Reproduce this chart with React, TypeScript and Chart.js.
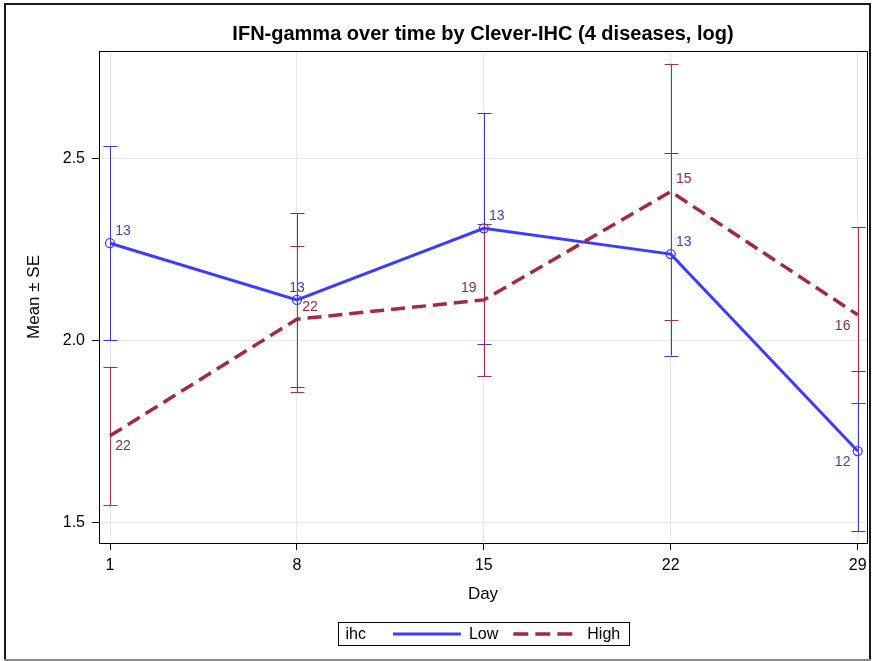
import React, { useEffect, useRef } from "react";
import { Chart, registerables } from "chart.js";

Chart.register(...registerables);

// ---------- data ----------
const days = [1, 8, 15, 22, 29];
const lowMean = [2.268, 2.112, 2.309, 2.238, 1.696];
const lowSE = [0.267, 0.239, 0.318, 0.279, 0.221];
const lowN = [13, 13, 13, 13, 12];
const highMean = [1.738, 2.059, 2.112, 2.41, 2.071];
const highSE = [0.19, 0.2, 0.21, 0.352, 0.242];
const highN = [22, 22, 19, 15, 16];
const yTicks = [1.5, 2.0, 2.5];
const xTicks = days;
const seriesNames = ["Low", "High"];
const legendTitle = "ihc";
const titleText = "IFN-gamma over time by Clever-IHC (4 diseases, log)";

// label placement codes (style)
const lowLabelPos = ["ur", "u", "ur", "ur", "dl"];
const highLabelPos = ["dr", "ur", "ul", "ur", "dl"];

// ---------- style ----------
const FONT = "'Liberation Sans', Arial, Helvetica, sans-serif";
const LOW_LINE = "#3c3cff";
const LOW_BAR = "#3a3ad0";
const LOW_TEXT = "#4040c4";
const HIGH_LINE = "#a3293d";
const HIGH_BAR = "#a0334a";
const HIGH_TEXT = "#93293d";
const DASH = [14, 7];

const placeOffset: Record<string, [number, number]> = {
  ur: [13, -12],
  u: [0, -12],
  dr: [13, 10],
  ul: [-15, -12],
  dl: [-15, 11],
};

const seriesInfo = [
  { mean: lowMean, se: lowSE, n: lowN, pos: lowLabelPos, bar: LOW_BAR, text: LOW_TEXT },
  { mean: highMean, se: highSE, n: highN, pos: highLabelPos, bar: HIGH_BAR, text: HIGH_TEXT },
];

const decorPlugin = {
  id: "decor",
  beforeDatasetsDraw(chart: any) {
    const { ctx, scales } = chart;
    const xs = scales.x;
    const ys = scales.y;
    ctx.save();
    seriesInfo.forEach((s) => {
      ctx.strokeStyle = s.bar;
      ctx.lineWidth = 1;
      days.forEach((d, i) => {
        const x = Math.round(xs.getPixelForValue(d)) + 0.5;
        const yt = ys.getPixelForValue(s.mean[i] + s.se[i]);
        const yb = ys.getPixelForValue(s.mean[i] - s.se[i]);
        ctx.beginPath();
        ctx.moveTo(x, yt);
        ctx.lineTo(x, yb);
        ctx.moveTo(x - 7, Math.round(yt) + 0.5);
        ctx.lineTo(x + 7, Math.round(yt) + 0.5);
        ctx.moveTo(x - 7, Math.round(yb) + 0.5);
        ctx.lineTo(x + 7, Math.round(yb) + 0.5);
        ctx.stroke();
      });
    });
    ctx.restore();
  },
  afterDatasetsDraw(chart: any) {
    const { ctx, scales } = chart;
    const xs = scales.x;
    const ys = scales.y;
    ctx.save();
    ctx.font = `14px ${FONT}`;
    ctx.textAlign = "center";
    ctx.textBaseline = "middle";
    seriesInfo.forEach((s) => {
      ctx.fillStyle = s.text;
      days.forEach((d, i) => {
        const [dx, dy] = placeOffset[s.pos[i]];
        const x = xs.getPixelForValue(d) + dx;
        const y = ys.getPixelForValue(s.mean[i]) + dy;
        ctx.fillText(String(s.n[i]), x, y);
      });
    });
    ctx.restore();
  },
  afterDraw(chart: any) {
    const { ctx, chartArea: ca } = chart;
    ctx.save();
    // plot frame (top & right)
    ctx.strokeStyle = "#000";
    ctx.lineWidth = 1;
    ctx.beginPath();
    ctx.moveTo(Math.round(ca.left) + 0.5, Math.round(ca.top) + 0.5);
    ctx.lineTo(Math.round(ca.right) + 0.5, Math.round(ca.top) + 0.5);
    ctx.lineTo(Math.round(ca.right) + 0.5, Math.round(ca.bottom) + 0.5);
    ctx.stroke();

    // legend
    ctx.font = `16px ${FONT}`;
    ctx.textBaseline = "middle";
    ctx.textAlign = "left";
    const wT = ctx.measureText(legendTitle).width;
    const wL = ctx.measureText(seriesNames[0]).width;
    const wH = ctx.measureText(seriesNames[1]).width;
    const padL = 7, gap1 = 27, line1 = 68, gap2 = 8, gap3 = 15, line2 = 59, gap4 = 15, padR = 9;
    const total = padL + wT + gap1 + line1 + gap2 + wL + gap3 + line2 + gap4 + wH + padR;
    const cx = (ca.left + ca.right) / 2;
    const bx = Math.round(cx - total / 2) + 0.5;
    const by = 622.5;
    const bh = 23;
    const my = by + bh / 2;
    ctx.strokeStyle = "#000";
    ctx.lineWidth = 1;
    ctx.strokeRect(bx, by, Math.round(total), bh);
    let px = bx + padL;
    ctx.fillStyle = "#000";
    ctx.fillText(legendTitle, px, my + 1);
    px += wT + gap1;
    ctx.strokeStyle = LOW_LINE;
    ctx.lineWidth = 3;
    ctx.beginPath();
    ctx.moveTo(px, my);
    ctx.lineTo(px + line1, my);
    ctx.stroke();
    px += line1 + gap2;
    ctx.fillText(seriesNames[0], px, my + 1);
    px += wL + gap3;
    ctx.strokeStyle = HIGH_LINE;
    ctx.lineWidth = 3.5;
    ctx.setLineDash([15, 7]);
    ctx.beginPath();
    ctx.moveTo(px, my);
    ctx.lineTo(px + line2, my);
    ctx.stroke();
    ctx.setLineDash([]);
    px += line2 + gap4;
    ctx.fillText(seriesNames[1], px, my + 1);

    // outer frame
    ctx.strokeStyle = "#1a1a1a";
    ctx.lineWidth = 2;
    ctx.beginPath();
    ctx.moveTo(5, 660);
    ctx.lineTo(5, 4);
    ctx.lineTo(870, 4);
    ctx.lineTo(870, 660);
    ctx.stroke();
    ctx.strokeStyle = "#8a8a8a";
    ctx.beginPath();
    ctx.moveTo(4, 660);
    ctx.lineTo(871, 660);
    ctx.stroke();
    ctx.restore();
  },
};

export default function App() {
  const ref = useRef<HTMLCanvasElement | null>(null);
  useEffect(() => {
    if (!ref.current) return;
    const chart = new Chart(ref.current, {
      type: "line",
      data: {
        datasets: [
          {
            label: seriesNames[0],
            data: days.map((d, i) => ({ x: d, y: lowMean[i] })),
            borderColor: LOW_LINE,
            borderWidth: 3,
            pointRadius: 4.5,
            pointBorderColor: LOW_LINE,
            pointBackgroundColor: "rgba(0,0,0,0)",
            pointBorderWidth: 1.3,
            tension: 0,
            order: 1,
          },
          {
            label: seriesNames[1],
            data: days.map((d, i) => ({ x: d, y: highMean[i] })),
            borderColor: HIGH_LINE,
            borderWidth: 3.5,
            borderDash: DASH,
            pointRadius: 0,
            tension: 0,
            order: 0,
          },
        ],
      },
      options: {
        responsive: false,
        animation: false,
        layout: { padding: { left: 0, right: 6, top: 0, bottom: 43 } },
        plugins: {
          legend: { display: false },
          tooltip: { enabled: false },
          title: {
            display: true,
            text: titleText,
            fullSize: false,
            color: "#000",
            font: { family: FONT, size: 20, weight: "bold" },
            padding: { top: 22, bottom: 5 },
          },
        },
        scales: {
          x: {
            type: "linear",
            min: 0.588,
            max: 29.35,
            afterBuildTicks: (s: any) => {
              s.ticks = xTicks.map((v) => ({ value: v }));
            },
            afterFit: (s: any) => {
              s.height = 75;
            },
            ticks: {
              color: "#000",
              font: { family: FONT, size: 16 },
              padding: 6,
              maxRotation: 0,
              autoSkip: false,
              callback: (v: any) => String(v),
            },
            grid: { color: "#e6e6e6", tickColor: "#000", tickLength: 7, lineWidth: 1 },
            border: { display: true, color: "#000", width: 1 },
            title: {
              display: true,
              text: "Day",
              color: "#000",
              font: { family: FONT, size: 17 },
              padding: { top: 4, bottom: 13 },
            },
          },
          y: {
            type: "linear",
            min: 1.443,
            max: 2.797,
            afterBuildTicks: (s: any) => {
              s.ticks = yTicks.map((v) => ({ value: v }));
            },
            afterFit: (s: any) => {
              s.width = 99;
            },
            ticks: {
              color: "#000",
              font: { family: FONT, size: 16 },
              padding: 7,
              callback: (v: any) => Number(v).toFixed(1),
            },
            grid: { color: "#e6e6e6", tickColor: "#000", tickLength: 7, lineWidth: 1 },
            border: { display: true, color: "#000", width: 1 },
            title: {
              display: true,
              text: "Mean ± SE",
              color: "#000",
              font: { family: FONT, size: 17 },
              padding: { top: 24, bottom: 0 },
            },
          },
        },
      },
      plugins: [decorPlugin],
    });
    return () => chart.destroy();
  }, []);
  return (
    <div style={{ position: "absolute", left: 0, top: 0, width: 873, height: 661, background: "#fff" }}>
      <canvas ref={ref} width={873} height={661} style={{ display: "block" }} />
    </div>
  );
}
